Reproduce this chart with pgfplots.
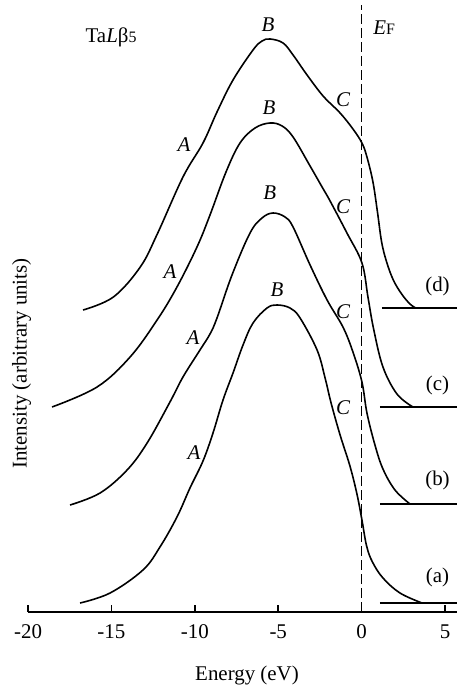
\documentclass[border=0pt]{standalone}
\usepackage{fontspec}
\setmainfont{Liberation Serif}
\usepackage{pgfplots}
\pgfplotsset{compat=1.18}

\begin{document}
\begin{tikzpicture}
\fontsize{10.5}{12}\selectfont
\begin{axis}[
    scale only axis,
    width=214.5bp, height=306bp,
    xmin=-20, xmax=5.72,
    ymin=0, ymax=61.2,
    axis x line*=bottom,
    axis y line=none,
    ytick=\empty,
    xtick={-20,-15,-10,-5,0,5},
    xticklabels={-20,-15,-10,-5,0,5},
    xticklabel style={font=\fontsize{10.5}{12}\selectfont, yshift=-2.5bp},
    tick align=inside,
    major tick length=3.5bp,
    axis line style={line width=0.8pt},
    every tick/.style={line width=0.8pt, black},
    clip=false,
  ]
  % curve (a)
  \addplot[black, line width=0.8pt, smooth, tension=0.6] coordinates {
    (-16.88,0.9) (-15.08,1.9) (-13.11,4.2) (-12.09,6.5) (-11.07,9.5)
    (-10.29,12.4) (-9.51,15.1) (-8.91,17.9) (-8.31,21.2) (-7.71,23.9)
    (-7.11,26.7) (-6.51,28.9) (-5.67,30.4) (-5.07,30.7) (-4.29,30.4)
    (-3.69,29.4) (-2.67,26.2) (-2.19,23.4) (-1.83,20.9) (-1.29,17.7)
    (-0.70,14.6) (-0.28,11.8) (0.02,9.2) (0.30,6.6) (0.65,5.0)
    (1.28,3.4) (2.30,1.9) (3.62,0.9)
  };
  % curve (b)
  \addplot[black, line width=0.8pt, smooth, tension=0.6] coordinates {
    (-17.48,10.7) (-15.68,11.9) (-14.06,14.2) (-12.86,16.9) (-11.49,21.0)
    (-10.71,23.5) (-9.69,26.2) (-9.09,27.8) (-8.67,29.4) (-7.77,33.7)
    (-6.69,37.9) (-5.97,39.4) (-5.31,39.9) (-4.59,39.5) (-4.11,38.5)
    (-3.09,34.7) (-2.07,31.2) (-1.12,28.5) (-0.52,26.0) (0.02,23.0)
    (0.32,19.9) (0.80,16.7) (1.28,14.3) (2.00,12.2) (2.90,10.8)
  };
  % curve (c)
  \addplot[black, line width=0.8pt, smooth, tension=0.6] coordinates {
    (-18.56,20.5) (-15.86,22.5) (-13.88,25.5) (-12.26,29.2) (-11.07,32.5)
    (-9.87,36.5) (-9.09,39.7) (-8.13,44.0) (-7.29,46.9) (-6.39,48.4)
    (-5.49,48.9) (-4.77,48.6) (-4.11,47.5) (-3.09,44.6) (-2.37,42.5)
    (-1.89,41.1) (-0.88,37.9) (0.02,34.9) (0.38,31.5) (0.72,28.3)
    (1.28,24.5) (2.12,21.8) (3.08,20.5)
  };
  % curve (d)
  \addplot[black, line width=0.8pt, smooth, tension=0.6] coordinates {
    (-16.70,30.2) (-14.88,31.5) (-13.27,34.5) (-12.25,37.8)
    (-10.71,43.5) (-9.51,46.9) (-8.67,50.0) (-7.71,53.2) (-6.51,56.2)
    (-5.97,57.1) (-5.49,57.3) (-4.71,56.9) (-4.11,55.7) (-3.27,53.7)
    (-2.31,51.6) (-1.29,49.9) (-0.52,48.3) (0.02,46.9) (0.32,45.5)
    (0.68,43.0) (0.95,40.0) (1.20,37.0) (1.50,35.0) (1.90,33.2)
    (2.40,31.8) (2.90,30.8) (3.25,30.4)
  };
  % baselines
  \addplot[black, line width=0.8pt] coordinates {(1.10,0.9) (5.72,0.9)};
  \addplot[black, line width=0.8pt] coordinates {(1.10,10.8) (5.72,10.8)};
  \addplot[black, line width=0.8pt] coordinates {(1.10,20.5) (5.72,20.5)};
  \addplot[black, line width=0.8pt] coordinates {(1.22,30.4) (5.72,30.4)};
  % Fermi level
  \addplot[black, line width=0.7pt, dash pattern=on 5bp off 2bp] coordinates {(0,0) (0,60.7)};

  % peak labels
  \node at (axis cs:-5.61,58.7) {\textit{B}};
  \node at (axis cs:-5.55,50.4) {\textit{B}};
  \node at (axis cs:-5.50,41.9) {\textit{B}};
  \node at (axis cs:-5.07,32.2) {\textit{B}};
  \node at (axis cs:-1.10,51.2) {\textit{C}};
  \node at (axis cs:-1.10,40.5) {\textit{C}};
  \node at (axis cs:-1.10,30.0) {\textit{C}};
  \node at (axis cs:-1.10,20.4) {\textit{C}};
  \node at (axis cs:-10.65,46.7) {\textit{A}};
  \node at (axis cs:-11.49,34.0) {\textit{A}};
  \node at (axis cs:-10.11,27.4) {\textit{A}};
  \node at (axis cs:-10.05,15.9) {\textit{A}};
  % curve labels
  \node at (axis cs:4.55,3.5) {(a)};
  \node at (axis cs:4.55,13.2) {(b)};
  \node at (axis cs:4.55,22.7) {(c)};
  \node at (axis cs:4.55,32.6) {(d)};
  \node[anchor=west, inner sep=0pt] at (axis cs:0.68,58.4) {\textit{E}{\footnotesize F}};
  \node at (axis cs:-15.02,57.5) {Ta\textit{L}β{\footnotesize 5}};
  % axis titles
  \node at (axis cs:-6.87,-6.3) {Energy (eV)};
  \node[rotate=90] at (axis cs:-20.39,24.85) {Intensity (arbitrary units)};
  \coordinate (bl) at (axis cs:-21.68,-7.4);
  \coordinate (tr) at (axis cs:5.72,61.2);
\end{axis}
\pgfresetboundingbox
\path[use as bounding box] (bl) rectangle (tr);
\end{tikzpicture}
\end{document}
